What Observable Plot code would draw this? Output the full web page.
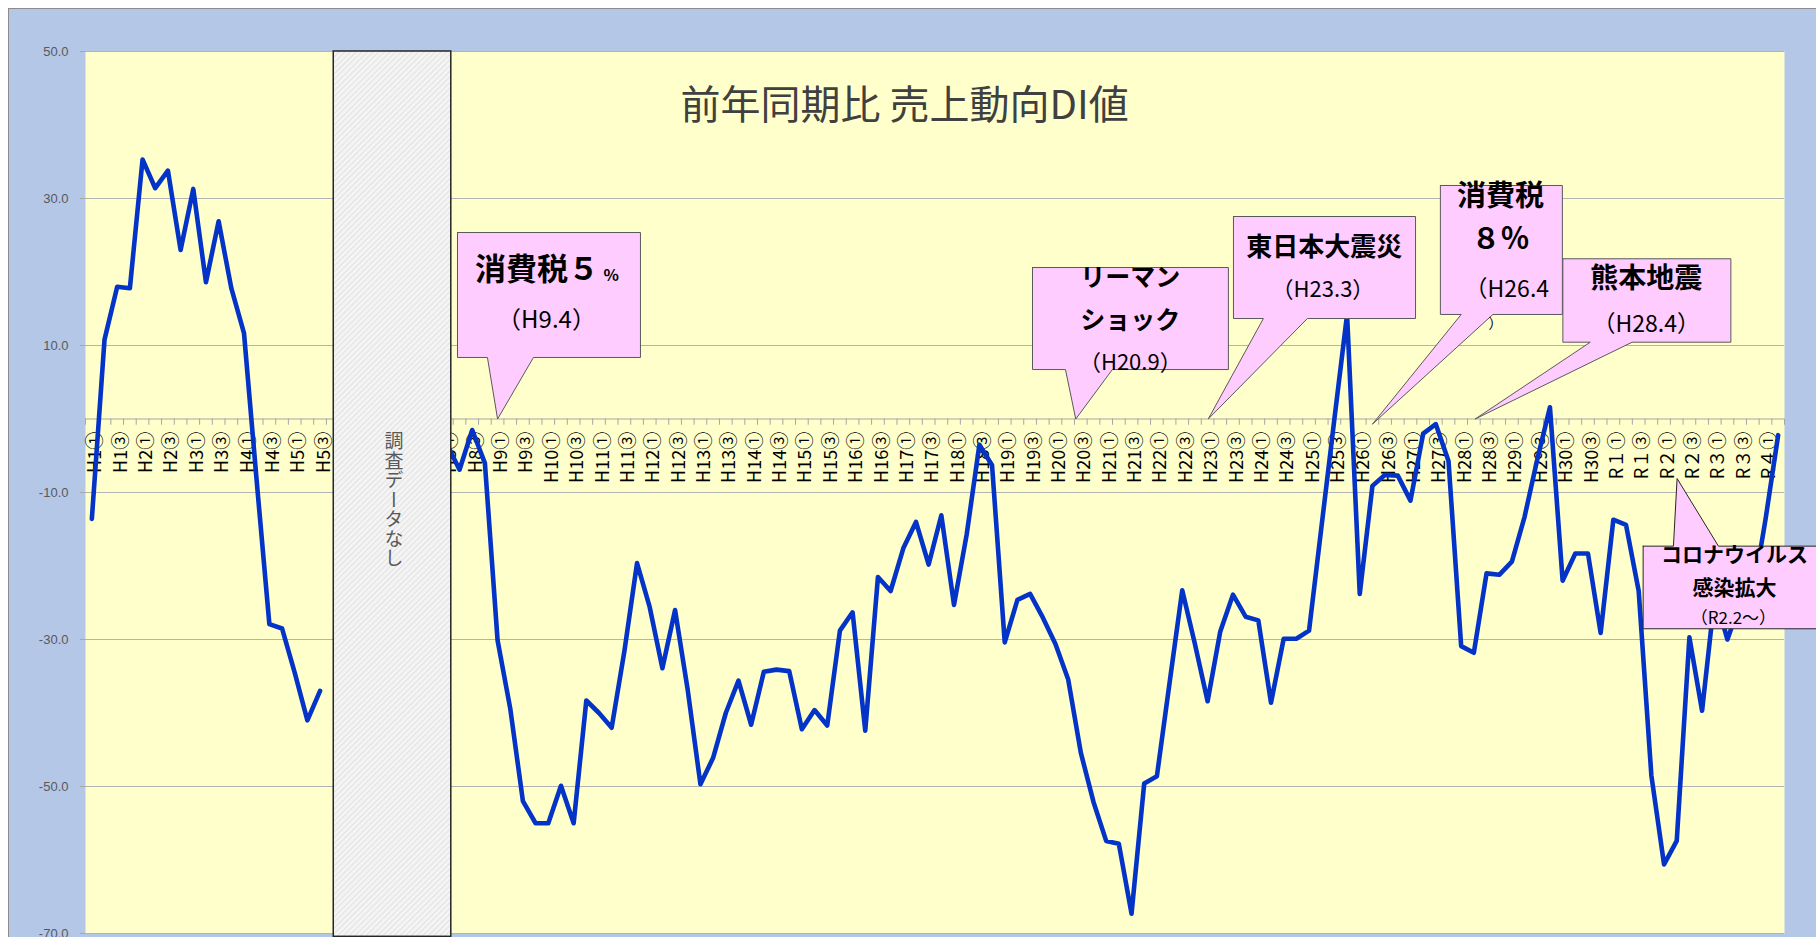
<!DOCTYPE html>
<html>
<head>
<meta charset="utf-8">
<script src="https://cdn.jsdelivr.net/npm/d3@7"></script>
<script src="https://cdn.jsdelivr.net/npm/@observablehq/plot@0.6"></script>
<style>
  html, body { margin: 0; padding: 0; background: #ffffff; }
  #wrap { position: relative; width: 1816px; height: 937px; overflow: hidden; background: #ffffff; }
  #frame { position: absolute; left: 8px; top: 8px; width: 1830px; height: 950px; background: #b4c7e7; border-left: 1px solid #8c8c8c; border-top: 1px solid #8c8c8c; }
  #chart { position: absolute; left: 0; top: 0; }
</style>
</head>
<body>
<div id="wrap"><div id="frame"></div><div id="chart"></div></div>
<script>
// ---- data ----
const chartTitle = "前年同期比 売上動向DI値";
const yearLabels = ["H1","H2","H3","H4","H5","H6","H7","H8","H9","H10","H11","H12","H13","H14","H15",
  "H16","H17","H18","H19","H20","H21","H22","H23","H24","H25","H26","H27","H28","H29","H30",
  "R１","R２","R３","R４"];
const quarterMarks = ["①","②","③","④"];
const yTicks = [50, 30, 10, -10, -30, -50, -70];
const diValues = [
  -13.6, 10.8, 18.0, 17.8,   // H1
  35.3, 31.4, 33.8, 23.0,    // H2
  31.3, 18.6, 26.9, 17.8,    // H3
  11.7, -8.4, -27.9, -28.5,  // H4
  -34.5, -41.0, -37.0, null, // H5
  null, null, null, null,    // H6
  null, null, null, null,    // H7
  -3.4, -6.9, -1.5, -6.0,    // H8
  -30.1, -39.4, -52.0, -55.0,// H9
  -55.0, -49.9, -55.0, -38.3,// H10
  -40.0, -42.0, -31.6, -19.6,// H11
  -25.6, -33.9, -26.0, -36.9,// H12
  -49.7, -46.1, -40.0, -35.6,// H13
  -41.6, -34.4, -34.1, -34.3,// H14
  -42.2, -39.6, -41.7, -28.8,// H15
  -26.3, -42.4, -21.5, -23.4,// H16
  -17.6, -14.0, -19.8, -13.1,// H17
  -25.3, -15.7, -3.5, -6.3,  // H18
  -30.4, -24.6, -23.8, -27.0,// H19
  -30.6, -35.4, -45.4, -52.1,// H20
  -57.4, -57.8, -67.3, -49.6,// H21
  -48.6, -35.9, -23.3, -30.6,// H22
  -38.4, -28.9, -23.9, -26.9,// H23
  -27.4, -38.6, -29.9, -29.9,// H24
  -28.8, -14.4, 0.0, 14.2,   // H25
  -23.8, -9.1, -7.6, -7.7,   // H26
  -11.1, -2.0, -0.7, -5.7,   // H27
  -30.9, -31.8, -21.0, -21.2,// H28
  -19.4, -13.3, -5.5, 1.6,   // H29
  -22.0, -18.3, -18.3, -29.1,// H30
  -13.7, -14.4, -23.4, -48.5,// R1
  -60.6, -57.4, -29.7, -39.7,// R2
  -24.0, -30.0, -25.0, -24.0,// R3
  -13.7, -2.2                // R4
];
const noDataLabel = "調査データなし";

// ---- build table ----
const categories = [];
yearLabels.forEach(y => quarterMarks.forEach(q => categories.push(y + q)));
const table = diValues.map((v, i) => ({i, label: categories[i], v}));
const labelRows = table.filter(d => d.i % 2 === 0);
const boundaries = d3.range(-0.5, table.length, 1);

// ---- callout shapes (data units: category index, DI value) ----
function wedgeBelow(xl, xr, yt, yb, b1, b2, tx, ty) {
  return [[xl,yt],[xr,yt],[xr,yb],[b2,yb],[tx,ty],[b1,yb],[xl,yb],[xl,yt]];
}
function wedgeAbove(xl, xr, yt, yb, b1, b2, tx, ty) {
  return [[xl,yt],[b1,yt],[tx,ty],[b2,yt],[xr,yt],[xr,yb],[xl,yb],[xl,yt]];
}
const shapes = [
  {pts: wedgeBelow(28.84, 43.27, 25.37, 8.37, 31.2, 34.83, 32, 0), stroke: "#595959"},
  {pts: wedgeBelow(74.19, 89.64, 20.61, 6.73, 76.79, 80.49, 77.6, 0), stroke: "#595959"},
  {pts: wedgeBelow(90.04, 104.4, 27.55, 13.67, 92.4, 95.87, 88.05, 0), stroke: "#595959"},
  {pts: wedgeBelow(106.36, 115.98, 31.77, 14.22, 108.0, 110.5, 101.0, -0.7), stroke: "#595959"},
  {pts: wedgeBelow(116.02, 129.27, 21.8, 10.45, 118.18, 121.48, 109.1, 0), stroke: "#595959"},
  {pts: wedgeAbove(122.35, 137.5, -17.3, -28.54, 124.74, 128.29, 125.03, -8.1), stroke: "#262626"}
];
const boldTexts = [
  {x: 35.1, y: 20.2, t: "消費税５", s: 31},
  {x: 81.9, y: 19.25, t: "リーマン", s: 25},
  {x: 81.9, y: 13.4, t: "ショック", s: 25},
  {x: 97.2, y: 23.33, t: "東日本大震災", s: 26},
  {x: 111.1, y: 30.3, t: "消費税", s: 29},
  {x: 111.1, y: 24.4, t: "８％", s: 29},
  {x: 122.6, y: 19.1, t: "熊本地震", s: 28},
  {x: 129.55, y: -18.5, t: "コロナウイルス", s: 21},
  {x: 129.55, y: -23.06, t: "感染拡大", s: 21}
];
const plainTexts = [
  {x: 35.86, y: 13.4, t: "（H9.4）", s: 24},
  {x: 81.9, y: 7.69, t: "（H20.9）", s: 22},
  {x: 97.1, y: 17.6, t: "（H23.3）", s: 22},
  {x: 111.6, y: 17.6, t: "（H26.4", s: 23},
  {x: 110.7, y: 13.0, t: "）", s: 14},
  {x: 122.6, y: 12.86, t: "（H28.4）", s: 23},
  {x: 129.47, y: -27.1, t: "（R2.2～）", s: 17}
];

const jp = "'Noto Sans CJK JP', 'Noto Sans', sans-serif";

const chart = Plot.plot({
  width: 1816,
  height: 937,
  marginLeft: 85,
  marginRight: 32,
  marginTop: 51,
  marginBottom: 4,
  style: {background: "transparent", fontFamily: jp},
  x: {domain: [-0.5, 133.5], axis: null},
  y: {domain: [-70, 50], axis: null},
  marks: [
    Plot.frame({fill: "#ffffcc", stroke: null}),
    Plot.ruleY(yTicks, {stroke: "#b3b3b3", strokeWidth: 1}),
    Plot.axisY({ticks: yTicks, tickFormat: d => d.toFixed(1), tickSize: 5, tickPadding: 12,
      fontSize: 13, fontFamily: "'Liberation Sans', sans-serif", fill: "#595959", stroke: "#a6a6a6", label: null}),
    Plot.ruleY([0], {stroke: "#a6a6a6", strokeWidth: 1}),
    Plot.ruleX(boundaries, {y1: 0, y2: -0.85, stroke: "#a6a6a6", strokeWidth: 1}),
    Plot.text(labelRows, {x: d => d.i + 0.3, y: -1.75, text: "label", rotate: -90, textAnchor: "end",
      fontSize: 18, fill: "#000000", fontFamily: jp}),
    Plot.line(table, {x: "i", y: "v", stroke: "#0433c8", strokeWidth: 4.6,
      strokeLinejoin: "round", strokeLinecap: "round"}),
    Plot.rect([noDataLabel], {x1: 19.08, x2: 28.35, y1: 50, y2: -70.45,
      fill: "url(#hatch)", stroke: "#262626", strokeWidth: 1.5}),
    Plot.text([noDataLabel], {x: 23.83, y: -0.88, text: d => d, fontSize: 19, fill: "#595959",
      textAnchor: "start", fontFamily: jp}),
    ...shapes.map(s => Plot.line(s.pts, {x: d => d[0], y: d => d[1], fill: "#ffccff",
      stroke: s.stroke, strokeWidth: 1, strokeLinejoin: "miter", strokeMiterlimit: 10})),
    Plot.text(boldTexts, {x: "x", y: "y", text: "t", fontSize: d => d.s, fontWeight: "bold",
      fill: "#000000", fontFamily: jp}),
    Plot.text([{x: 40.35, y: 19.5, t: "%"}], {x: "x", y: "y", text: "t", fontSize: 16,
      fontWeight: "bold", textAnchor: "start", fill: "#000000", fontFamily: jp}),
    Plot.text(plainTexts, {x: "x", y: "y", text: "t", fontSize: d => d.s, fill: "#000000",
      fontFamily: jp}),
    Plot.text([chartTitle], {x: 64.1, y: 42.5, text: d => d, fontSize: 40, fill: "#404040",
      fontFamily: jp})
  ]
});

// hatch pattern for the "no data" band
const svg = d3.select(chart);
const defs = svg.insert("defs", ":first-child");
const pat = defs.append("pattern").attr("id", "hatch").attr("patternUnits", "userSpaceOnUse")
  .attr("width", 4).attr("height", 4).attr("patternTransform", "rotate(45)");
pat.append("rect").attr("width", 4).attr("height", 4).attr("fill", "#f4f4f4");
pat.append("line").attr("x1", 0).attr("y1", 0).attr("x2", 0).attr("y2", 4)
  .attr("stroke", "#d4d4d4").attr("stroke-width", 1.2);

// vertical writing for the no-data label
svg.selectAll("text")
  .filter(function() { return this.textContent === noDataLabel; })
  .attr("dy", null)
  .attr("writing-mode", "vertical-rl")
  .style("writing-mode", "vertical-rl")
  .style("letter-spacing", "0.5px");

document.getElementById("chart").appendChild(chart);
</script>
</body>
</html>
